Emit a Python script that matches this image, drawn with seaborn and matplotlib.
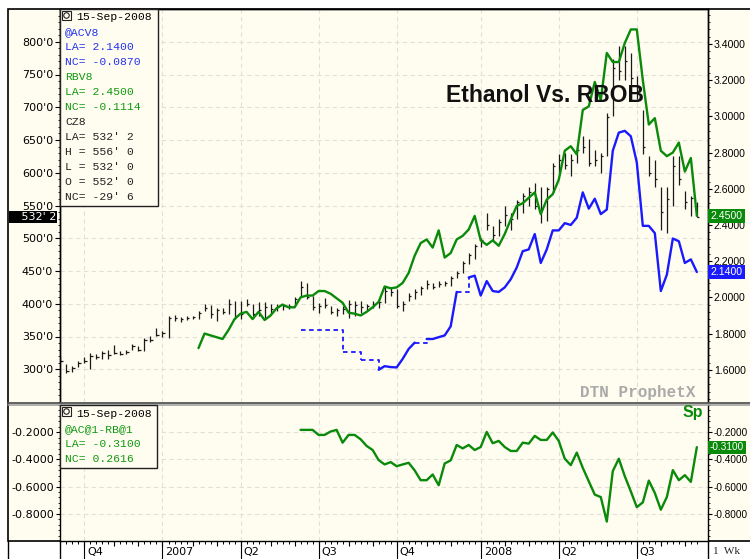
import numpy as np
import pandas as pd
import matplotlib
matplotlib.use("Agg")
import matplotlib.pyplot as plt
import matplotlib.dates as mdates
import matplotlib.transforms as mtransforms
from matplotlib.patches import Rectangle, Ellipse
from matplotlib.lines import Line2D
from matplotlib.ticker import FixedLocator, MultipleLocator, FuncFormatter
import seaborn as sns

nan = float("nan")

# ---------------- data (weekly bars, Mondays) ----------------
first_week = "2006-09-04"
n_weeks = 107

corn_high = [320, 308, 305, 313, 318, 325, 324, 328, 330, 337,
             328, 329, 338, 335, 347, 351, 363, 358, 381, 383,
             380, 381, 381, 389, 399, 398, 394, 394, 407, 404,
             404, 408, 399, 402, 402, 399, 399, 399, 399, 411,
             435, 431, 412, 401, 409, 397, 393, 397, 406, 404,
             404, 399, 404, 407, 427, 425, 422, 404, 417, 422,
             427, 437, 432, 435, 435, 442, 450, 465, 478, 491,
             501, 539, 518, 529, 549, 539, 559, 569, 579, 585,
             579, 579, 615, 628, 630, 628, 640, 656, 651, 635,
             630, 691, 773, 793, 793, 783, 747, 696, 625, 620,
             579, 579, 625, 625, 572, 564, 556]
corn_low = [309, 294, 296, 303, 309, 300, 316, 315, 315, 323,
            321, 323, 330, 328, 328, 342, 351, 350, 348, 374,
            372, 375, 376, 376, 389, 379, 374, 384, 385, 376,
            376, 396, 381, 381, 379, 384, 389, 390, 392, 399,
            412, 407, 390, 386, 394, 384, 382, 384, 379, 381,
            386, 389, 393, 394, 401, 412, 393, 389, 404, 407,
            414, 423, 422, 425, 427, 427, 440, 447, 460, 468,
            486, 513, 498, 503, 518, 513, 529, 539, 549, 544,
            524, 526, 569, 600, 605, 595, 615, 630, 610, 610,
            600, 625, 686, 742, 742, 732, 712, 628, 595, 579,
            513, 508, 549, 582, 544, 534, 532]
corn_close = [312, 298, 302, 310, 312, 320, 318, 325, 322, 325,
              324, 327, 335, 330, 345, 345, 353, 355, 378, 378,
              376, 378, 380, 386, 393, 385, 390, 388, 400, 382,
              385, 400, 385, 390, 395, 392, 395, 396, 397, 408,
              425, 410, 395, 396, 398, 388, 390, 392, 400, 398,
              395, 396, 400, 403, 420, 418, 396, 400, 412, 418,
              424, 430, 426, 430, 432, 440, 447, 462, 474, 488,
              498, 520, 505, 525, 535, 530, 555, 565, 570, 550,
              545, 575, 610, 620, 612, 620, 635, 640, 615, 620,
              625, 685, 760, 755, 770, 745, 720, 640, 600, 590,
              540, 560, 610, 590, 555, 562, 532.25]

rbob = [nan] * 23 + [
    1.72, 1.80, 1.79, 1.78, 1.77, 1.82, 1.88,
    1.91, 1.92, 1.88, 1.92, 1.875, 1.90, 1.94, 1.96, 1.945, 1.945,
    2.00, 2.01, 2.01, 2.035, 2.035, 2.02, 1.995, 1.97, 1.915, 1.91,
    1.90, 1.92, 1.945, 1.975, 2.06, 2.05, 2.055, 2.08, 2.135, 2.23,
    2.30, 2.32, 2.275, 2.37, 2.22, 2.245, 2.32, 2.34, 2.375, 2.45,
    2.315, 2.29, 2.315, 2.285, 2.35, 2.43, 2.505, 2.52, 2.55, 2.58,
    2.46, 2.54, 2.57, 2.65, 2.81, 2.835, 2.79, 3.035, 3.055, 3.19,
    3.09, 3.35, 3.30, 3.30, 3.405, 3.48, 3.48, 3.20, 2.955, 2.99,
    2.81, 2.78, 2.80, 2.855, 2.695, 2.77, 2.45]

ethanol = [nan] * 40 + [
    1.82, nan, nan, nan, nan, nan, nan, 1.70, nan, nan,
    1.655, nan, nan, 1.60, 1.62, 1.615, 1.613, 1.66, 1.715, 1.75,
    nan, 1.77, 1.77, 1.78, 1.79, 1.84, 2.03, nan, 2.11, 2.12,
    2.01, 2.09, 2.035, 2.03, 2.055, 2.10, 2.165, 2.255, 2.265, 2.35,
    2.19, 2.265, 2.37, 2.37, 2.41, 2.40, 2.44, 2.58, 2.49, 2.545,
    2.46, 2.485, 2.81, 2.91, 2.92, 2.89, 2.745, 2.395, 2.395, 2.355,
    2.035, 2.125, 2.325, 2.31, 2.19, 2.21, 2.14]

spread = [nan] * 40 + [
    -0.183, -0.183, -0.183, -0.22, -0.22, -0.195, -0.183, -0.277, -0.22, -0.22,
    -0.252, -0.301, -0.331, -0.405, -0.437, -0.42, -0.45, -0.437, -0.425, -0.481,
    -0.553, -0.553, -0.511, -0.59, -0.43, -0.407, -0.294, -0.319, -0.294, -0.331,
    -0.309, -0.198, -0.281, -0.264, -0.309, -0.338, -0.338, -0.277, -0.284, -0.227,
    -0.257, -0.257, -0.202, -0.264, -0.395, -0.442, -0.35, -0.462, -0.561, -0.659,
    -0.677, -0.857, -0.486, -0.395, -0.524, -0.635, -0.751, -0.716, -0.556, -0.647,
    -0.77, -0.677, -0.479, -0.553, -0.516, -0.565, -0.31]

corn_ticks = [300, 350, 400, 450, 500, 550, 600, 650, 700, 750, 800]
price_ticks = [1.6, 1.8, 2.0, 2.2, 2.4, 2.6, 2.8, 3.0, 3.2, 3.4]
spread_ticks = [-0.8, -0.6, -0.4, -0.2]
quarter_labels = ["Q4", "2007", "Q2", "Q3", "Q4", "2008", "Q2", "Q3"]

corn_last, corn_last_label = 532.25, "532' 2"
rbob_last, ethanol_last, spread_last = 2.45, 2.14, -0.31

GREEN = "#0a8a0a"
BLUE = "#1a1aff"
LGREEN = "#119911"
LBLUE = "#2233ee"
legend_main = [("15-Sep-2008", "black"),
               ("@ACV8", LBLUE), ("LA= 2.1400", LBLUE), ("NC= -0.0870", LBLUE),
               ("RBV8", LGREEN), ("LA= 2.4500", LGREEN), ("NC= -0.1114", LGREEN),
               ("CZ8", "#222222"), ("LA= 532' 2", "#222222"), ("H = 556' 0", "#222222"),
               ("L = 532' 0", "#222222"), ("O = 552' 0", "#222222"), ("NC= -29' 6", "#222222")]
legend_low = [("15-Sep-2008", "black"), ("@AC@1-RB@1", LGREEN),
              ("LA= -0.3100", LGREEN), ("NC= 0.2616", LGREEN)]

# ---------------- style ----------------
sns.set_theme(style="ticks")
plt.rcParams["font.family"] = ["DejaVu Sans"]
plt.rcParams["axes.linewidth"] = 1.0

CREAM = "#fffcf0"
GRID = "#e2e0d8"
RFONT = ["Liberation Sans", "DejaVu Sans"]
W, H = 750, 559
fig = plt.figure(figsize=(W / 100, H / 100), dpi=100, facecolor="white")


def fx(px):
    return px / W


def fy(py):
    return 1 - py / H


fig.patches.append(Rectangle((fx(8), fy(541)), fx(760) - fx(8), fy(9) - fy(541),
                             transform=fig.transFigure, facecolor=CREAM,
                             edgecolor="black", linewidth=1.2, zorder=-5))

ax = fig.add_axes([fx(60), fy(402), fx(708) - fx(60), fy(9) - fy(402)])
axl = fig.add_axes([fx(60), fy(541), fx(708) - fx(60), fy(405) - fy(541)], sharex=ax)
ax2 = ax.twinx()
for a in (ax, axl):
    a.set_facecolor(CREAM)

dates = pd.date_range(first_week, periods=n_weeks, freq="7D")

# corn weekly HLC bars (left axis)
ax.vlines(dates, corn_low, corn_high, color="#1a1a1a", linewidth=0.9, zorder=2)
ax.hlines(corn_close, dates, dates + pd.Timedelta(days=2.5), color="#1a1a1a",
          linewidth=0.9, zorder=2)

# RBOB (right axis)
sns.lineplot(x=dates, y=rbob, ax=ax2, color=GREEN, linewidth=1.7, zorder=3)

# Ethanol: solid where consecutive weeks traded, dashed steps across gaps
eth = pd.Series(ethanol, index=dates)
valid = eth.dropna()
vitems = list(valid.items())
for (d0, v0), (d1, v1) in zip(vitems[:-1], vitems[1:]):
    if (d1 - d0).days > 7:
        ax2.plot([d0, d1], [v0, v1], drawstyle="steps-post", linestyle=(0, (2.5, 2)),
                 color=BLUE, linewidth=1.3, zorder=3)
seg_id = eth.isna().cumsum()
for _, seg in valid.groupby(seg_id[eth.notna()]):
    if len(seg) > 1:
        sns.lineplot(x=seg.index, y=seg.values, ax=ax2, color=BLUE, linewidth=1.7, zorder=3)

# spread (lower panel)
sns.lineplot(x=dates, y=spread, ax=axl, color=GREEN, linewidth=1.7, zorder=3)

for a in (ax, ax2, axl):
    a.set_xlabel("")
    a.set_ylabel("")

# ---------------- axes / ticks ----------------
ax.set_xlim(pd.Timestamp("2006-09-03 12:00"), pd.Timestamp("2008-09-28"))
ax.set_ylim(250, 850)
ax2.set_ylim(1.422, 3.593)
axl.set_ylim(-1.0, 0.0)

s = pd.Series(dates, index=dates)
q_first = s.groupby(dates.to_period("Q")).min().iloc[1:]
m_first = s.groupby(dates.to_period("M")).min().iloc[1:]
q_num = mdates.date2num(q_first)

ax.xaxis.set_major_locator(FixedLocator(q_num))
ax.xaxis.set_minor_locator(FixedLocator(mdates.date2num(dates)))
ax.tick_params(axis="x", which="both", length=0, labelbottom=False, bottom=False)
axl.tick_params(axis="x", which="major", length=13, width=0.8, color="black",
                labelbottom=False, direction="out")
axl.tick_params(axis="x", which="minor", length=1.8, width=0.7, color="black",
                direction="out")

sec = axl.secondary_xaxis("bottom")
sec.xaxis.set_major_locator(FixedLocator(mdates.date2num(m_first)))
sec.tick_params(axis="x", length=3.8, width=0.8, labelbottom=False, color="black")
sec.spines["bottom"].set_visible(False)

ax.yaxis.set_major_locator(FixedLocator(corn_ticks))
ax.yaxis.set_minor_locator(MultipleLocator(10))
ax.yaxis.set_major_formatter(FuncFormatter(lambda v, p: f"{int(round(v))}'0"))
ax.tick_params(axis="y", which="major", length=3.5, width=0.8, labelsize=8, pad=1.5,
               colors="black")
ax.tick_params(axis="y", which="minor", length=1.5, width=0.7)

ax2.yaxis.set_major_locator(FixedLocator(price_ticks))
ax2.yaxis.set_minor_locator(MultipleLocator(0.04))
ax2.yaxis.set_major_formatter(FuncFormatter(lambda v, p: f"{v:.4f}"))
ax2.tick_params(axis="y", which="major", length=3, width=0.8, labelsize=7.6, pad=1.2,
                colors="black")
ax2.tick_params(axis="y", which="minor", length=1.5, width=0.7)
for t in ax2.get_yticklabels():
    t.set_fontfamily(RFONT)

axl.yaxis.set_major_locator(FixedLocator(spread_ticks))
axl.yaxis.set_minor_locator(MultipleLocator(0.04))
axl.yaxis.set_major_formatter(FuncFormatter(lambda v, p: f"{v:.4f}"))
axl.tick_params(axis="y", which="both", left=True, right=True,
                labelleft=True, labelright=True)
axl.tick_params(axis="y", which="major", length=3.5, width=0.8, labelsize=8, pad=1.5,
                colors="black")
axl.tick_params(axis="y", which="major", length=3, labelsize=7.2, pad=1.0,
                left=False, labelleft=False)
axl.tick_params(axis="y", which="minor", length=1.5, width=0.7)
axl.tick_params(axis="y", which="major", left=True, labelleft=True)
fig.canvas.draw()
for t in axl.yaxis.get_ticklabels(which="major"):
    pass
for tk in axl.yaxis.get_major_ticks():
    tk.label1.set_fontsize(8)
    tk.label1.set_fontfamily(["DejaVu Sans"])
    tk.label2.set_fontsize(7.2)
    tk.label2.set_fontfamily(RFONT)

gkw = dict(color=GRID, linestyle=(0, (4, 3)), linewidth=0.8)
ax.grid(True, which="major", **gkw)
axl.grid(True, which="major", **gkw)
ax2.grid(False)
ax.set_axisbelow(True)
axl.set_axisbelow(True)

for a in (ax, ax2, axl):
    for sp in a.spines.values():
        sp.set_color("black")
        sp.set_linewidth(1.0)
ax.spines["bottom"].set_visible(False)
ax2.spines["bottom"].set_visible(False)
axl.spines["top"].set_visible(False)

# panel separator & frame extensions
fig.lines.append(Line2D([fx(8), 1], [fy(402.5), fy(402.5)], transform=fig.transFigure,
                        color="#555555", linewidth=1.3, zorder=4))
fig.lines.append(Line2D([fx(8), 1], [fy(404.8), fy(404.8)], transform=fig.transFigure,
                        color="#9a9a9a", linewidth=1.1, zorder=4))
for xp in (8, 60, 708):
    fig.lines.append(Line2D([fx(xp), fx(xp)], [fy(541), 0], transform=fig.transFigure,
                            color="black", linewidth=1.0, zorder=4))

# quarter labels
lab_tr = mtransforms.offset_copy(
    mtransforms.blended_transform_factory(axl.transData, fig.transFigure),
    fig=fig, x=3, y=0, units="dots")
for d, lab in zip(q_num, quarter_labels):
    axl.text(d, fy(552), lab, transform=lab_tr, ha="left", va="center",
             fontsize=8, color="black", clip_on=False)
fig.text(fx(713), fy(552), "1  Wk", ha="left", va="center", fontsize=8,
         family=["Liberation Serif", "DejaVu Serif"])

# last-value boxes
tr_l = mtransforms.blended_transform_factory(ax.transAxes, ax.transData)
ax.text(-0.006, corn_last, "   " + corn_last_label, transform=tr_l, ha="right", va="center",
        fontsize=8, color="white", clip_on=False, zorder=6,
        bbox=dict(boxstyle="square,pad=0.12", fc="black", ec="none"))
tr_r = mtransforms.blended_transform_factory(ax2.transAxes, ax2.transData)
box_kw = dict(ha="left", va="center", fontsize=7.6, color="white", clip_on=False,
              zorder=6, family=RFONT)
ax2.text(1.004, rbob_last, f"{rbob_last:.4f}", transform=tr_r,
         bbox=dict(boxstyle="square,pad=0.2", fc=GREEN, ec="none"), **box_kw)
ax2.text(1.004, ethanol_last, f"{ethanol_last:.4f}", transform=tr_r,
         bbox=dict(boxstyle="square,pad=0.2", fc=BLUE, ec="none"), **box_kw)
tr_s = mtransforms.blended_transform_factory(axl.transAxes, axl.transData)
box_kw2 = dict(box_kw)
box_kw2["fontsize"] = 7.2
axl.text(1.003, spread_last, f"{spread_last:.4f}", transform=tr_s,
         bbox=dict(boxstyle="square,pad=0.15", fc=GREEN, ec="none"), **box_kw2)


# legend boxes
def legend_box(x0, y0, x1, y1, lines, ytop):
    fig.patches.append(Rectangle((fx(x0), fy(y1)), fx(x1) - fx(x0), fy(y0) - fy(y1),
                                 transform=fig.transFigure, facecolor=CREAM,
                                 edgecolor="#222222", linewidth=1.0, zorder=5))
    # small icon
    fig.patches.append(Rectangle((fx(x0 + 2), fy(y0 + 11)), fx(9), fy(0) - fy(9),
                                 transform=fig.transFigure, facecolor="none",
                                 edgecolor="#222222", linewidth=0.8, zorder=6))
    fig.patches.append(Ellipse((fx(x0 + 6.5), fy(y0 + 6.5)), fx(5.5), fy(0) - fy(5.5),
                               transform=fig.transFigure, facecolor="none",
                               edgecolor="#222222", linewidth=0.8, zorder=6))
    for k, (txt, col) in enumerate(lines):
        xx = x0 + 16 if k == 0 else x0 + 5
        fig.text(fx(xx), fy(ytop + 15 * k), txt, ha="left", va="center",
                 family=["Liberation Mono", "DejaVu Sans Mono"], fontsize=8.2,
                 color=col, zorder=7)


legend_box(60, 9, 158, 206, legend_main, 17)
legend_box(60, 405, 157, 468, legend_low, 414)

# titles / annotations
fig.text(fx(545), fy(95), "Ethanol Vs. RBOB", ha="center", va="center",
         family=["Liberation Sans", "DejaVu Sans"], fontweight="bold",
         fontsize=16.5, color="#111111", zorder=7)
fig.text(fx(696), fy(393), "DTN ProphetX", ha="right", va="center",
         family=["Liberation Mono", "DejaVu Sans Mono"], fontweight="bold",
         fontsize=11.5, color="#aaaaaa", zorder=7)
fig.text(fx(703), fy(413), "Sp", ha="right", va="center",
         family=["Liberation Sans", "DejaVu Sans"], fontweight="bold",
         fontsize=11.5, color=GREEN, zorder=7)

fig.savefig("out.png", dpi=100, facecolor="white")
